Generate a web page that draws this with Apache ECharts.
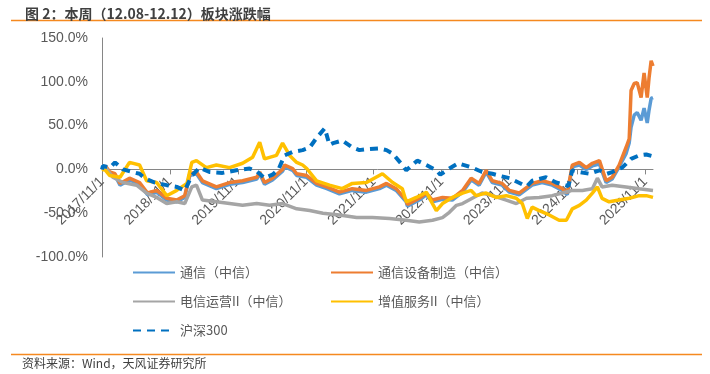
<!DOCTYPE html>
<html><head><meta charset="utf-8">
<script src="https://cdn.jsdelivr.net/npm/echarts@6/dist/echarts.min.js"></script>
<style>html,body{margin:0;padding:0;background:#fff}#c{width:710px;height:374px}</style>
</head><body><div id="c"></div>
<script>
const seriesNames = ['通信（中信）','通信设备制造（中信）','电信运营II（中信）','增值服务II（中信）','沪深300'];
const xTickLabels = ['2017/11/1','2018/11/1','2019/11/1','2020/11/1','2021/11/1','2022/11/1','2023/11/1','2024/11/1','2025/11/1'];
const yTicks = [-100,-50,0,50,100,150];

const tongxin = [
['2017-11-01',0],['2017-11-20',3],['2017-12-13',-5],['2018-01-10',-7],['2018-02-06',-18],['2018-03-29',-12],['2018-05-22',-17],['2018-07-04',-29],['2018-08-22',-26],['2018-10-15',-35],['2018-12-08',-37],['2019-01-20',-32],['2019-02-16',-7],['2019-03-24',-5],['2019-04-25',-15],['2019-07-09',-22],['2019-09-18',-17],['2019-11-27',-15],['2020-02-11',-11],['2020-02-27',-5],['2020-03-24',-17],['2020-05-06',-12],['2020-06-29',-2],['2020-07-10',3],['2020-08-22',-1],['2020-09-13',-7],['2020-11-06',-9],['2020-12-29',-18],['2021-02-22',-22],['2021-05-01',-28],['2021-07-09',-24],['2021-09-23',-26],['2021-12-02',-22],['2022-01-09',-18],['2022-03-02',-24],['2022-04-25',-37],['2022-05-01',-42],['2022-07-04',-35],['2022-08-11',-29],['2022-09-13',-37],['2022-11-06',-34],['2022-12-29',-35],['2023-02-22',-26],['2023-04-09',-12],['2023-05-22',-18],['2023-06-29',-3],['2023-08-01',-15],['2023-09-23',-18],['2023-11-01',-26],['2023-12-23',-29],['2024-03-02',-18],['2024-04-25',-15],['2024-06-18',-18],['2024-08-11',-24],['2024-09-07',-29],['2024-10-04',3],['2024-11-11',5],['2024-12-18',0],['2025-01-20',4],['2025-02-27',6],['2025-04-04',-15],['2025-05-06',-11],['2025-06-13',3],['2025-07-20',18],['2025-08-06',30],['2025-08-16',48],['2025-09-02',62],['2025-09-18',65],['2025-10-09',56],['2025-10-25',70],['2025-11-11',53],['2025-11-21',68],['2025-12-02',81],['2025-12-12',82]
];
const shebei = [
['2017-11-01',0],['2017-11-20',4],['2017-12-13',-3],['2018-01-10',-5],['2018-02-06',-16],['2018-03-29',-10],['2018-05-22',-15],['2018-07-04',-27],['2018-08-22',-24],['2018-10-15',-33],['2018-12-08',-35],['2019-01-20',-30],['2019-02-16',-5],['2019-03-24',-3],['2019-04-25',-13],['2019-07-09',-20],['2019-09-18',-15],['2019-11-27',-13],['2020-02-11',-9],['2020-02-27',-3],['2020-03-24',-15],['2020-05-06',-10],['2020-06-29',0],['2020-07-10',5],['2020-08-22',1],['2020-09-13',-5],['2020-11-06',-7],['2020-12-29',-16],['2021-02-22',-20],['2021-05-01',-26],['2021-07-09',-22],['2021-09-23',-24],['2021-12-02',-20],['2022-01-09',-16],['2022-03-02',-22],['2022-04-25',-35],['2022-05-01',-40],['2022-07-04',-33],['2022-08-11',-27],['2022-09-13',-35],['2022-11-06',-32],['2022-12-29',-33],['2023-02-22',-24],['2023-04-09',-10],['2023-05-22',-16],['2023-06-29',-1],['2023-08-01',-13],['2023-09-23',-16],['2023-11-01',-24],['2023-12-23',-27],['2024-03-02',-16],['2024-04-25',-13],['2024-06-18',-16],['2024-08-11',-22],['2024-09-07',-27],['2024-10-04',5],['2024-11-11',8],['2024-12-18',2],['2025-01-20',7],['2025-02-27',10],['2025-04-04',-13],['2025-05-06',-9],['2025-06-13',5],['2025-07-20',25],['2025-08-06',35],['2025-08-16',90],['2025-09-02',98],['2025-09-18',99],['2025-10-09',82],['2025-10-25',110],['2025-11-11',82],['2025-11-21',105],['2025-12-02',124],['2025-12-12',118]
];
const dianxin = [
['2017-11-01',0],['2017-11-20',2],['2017-12-29',-9],['2018-02-22',-15],['2018-05-06',-18],['2018-06-29',-27],['2018-08-22',-32],['2018-10-15',-39],['2018-12-08',-37],['2019-01-20',-39],['2019-02-27',-20],['2019-03-24',-18],['2019-04-25',-35],['2019-07-09',-37],['2019-09-18',-39],['2019-11-27',-41],['2020-02-11',-39],['2020-04-20',-41],['2020-06-29',-39],['2020-09-13',-45],['2020-11-22',-47],['2021-02-01',-50],['2021-05-01',-52],['2021-08-01',-55],['2021-10-25',-55],['2022-01-25',-56],['2022-04-25',-58],['2022-07-04',-60],['2022-09-13',-58],['2022-11-06',-55],['2022-12-13',-49],['2023-01-20',-41],['2023-02-22',-39],['2023-04-15',-33],['2023-06-07',-27],['2023-08-01',-30],['2023-10-15',-35],['2023-12-08',-39],['2024-02-01',-33],['2024-04-09',-32],['2024-06-18',-30],['2024-08-11',-27],['2024-10-04',-24],['2024-11-27',-24],['2025-01-20',-22],['2025-02-16',-10],['2025-03-13',-20],['2025-05-06',-18],['2025-07-20',-20],['2025-09-29',-22],['2025-12-12',-24]
];
const zengzhi = [
['2017-11-01',0],['2017-11-20',-1],['2017-12-13',-7],['2018-02-06',-9],['2018-03-29',8],['2018-05-22',5],['2018-06-29',-13],['2018-08-22',-15],['2018-10-15',-30],['2018-12-08',-24],['2019-02-01',-16],['2019-02-27',8],['2019-03-24',10],['2019-05-16',2],['2019-07-09',5],['2019-09-18',2],['2019-11-27',7],['2020-01-20',14],['2020-02-27',31],['2020-03-24',12],['2020-05-27',16],['2020-06-29',30],['2020-08-06',16],['2020-09-13',8],['2020-10-15',5],['2020-11-06',1],['2020-12-29',-13],['2021-03-08',-18],['2021-05-16',-22],['2021-07-09',-16],['2021-09-23',-15],['2021-12-18',-5],['2022-02-11',-15],['2022-04-04',-22],['2022-04-25',-37],['2022-06-18',-32],['2022-08-11',-26],['2022-09-13',-39],['2022-10-04',-47],['2022-11-06',-39],['2022-12-29',-32],['2023-02-22',-27],['2023-04-09',-24],['2023-05-06',-30],['2023-06-29',-27],['2023-08-22',-32],['2023-10-15',-30],['2023-12-08',-33],['2024-01-09',-39],['2024-02-05',-56],['2024-03-02',-43],['2024-04-09',-47],['2024-06-02',-52],['2024-07-25',-58],['2024-09-02',-58],['2024-10-04',-45],['2024-11-11',-41],['2024-12-18',-35],['2025-01-20',-27],['2025-02-16',-20],['2025-03-13',-33],['2025-04-20',-37],['2025-06-13',-35],['2025-08-06',-33],['2025-09-29',-30],['2025-11-06',-30],['2025-12-12',-32]
];
const hs300 = [
['2017-11-01',0],['2017-11-06',4],['2017-12-13',2],['2018-01-10',8],['2018-01-26',5],['2018-02-22',0],['2018-04-15',-3],['2018-05-22',-5],['2018-06-18',-10],['2018-08-11',-15],['2018-10-15',-18],['2018-12-08',-20],['2019-01-20',-24],['2019-02-27',-7],['2019-04-10',2],['2019-06-02',-3],['2019-08-11',-4],['2019-10-25',-1],['2020-01-04',1],['2020-02-11',-2],['2020-03-24',-10],['2020-05-06',-6],['2020-06-07',0],['2020-07-10',16],['2020-08-22',20],['2020-10-15',22],['2020-11-22',25],['2020-12-29',36],['2021-02-11',47],['2021-03-08',28],['2021-03-28',30],['2021-05-16',33],['2021-07-09',25],['2021-08-16',22],['2021-09-23',23],['2021-12-02',24],['2022-01-09',22],['2022-02-11',18],['2022-04-04',5],['2022-04-25',-1],['2022-06-23',10],['2022-08-11',5],['2022-10-04',-1],['2022-10-25',-6],['2022-12-13',1],['2023-01-30',7],['2023-04-15',2],['2023-06-07',-3],['2023-08-01',-5],['2023-09-23',-8],['2023-11-01',-10],['2024-01-09',-17],['2024-02-05',-19],['2024-03-02',-13],['2024-05-16',-9],['2024-07-09',-15],['2024-09-13',-19],['2024-10-04',-1],['2024-11-11',-3],['2025-01-04',-5],['2025-02-27',-1],['2025-04-09',-5],['2025-05-06',-3],['2025-06-29',2],['2025-08-16',12],['2025-09-29',16],['2025-11-06',17],['2025-12-12',15]
];

const colors = ['#5B9BD5','#ED7D31','#A5A5A5','#FFC000','#0070C0'];
const dataList = [tongxin, shebei, dianxin, zengzhi, hs300];
const FONT = '"Liberation Sans","Noto Sans CJK SC",sans-serif';
const CJK = '"Noto Sans CJK SC","Liberation Sans",sans-serif';

function parseD(s){const p=s.split(/[-\/]/).map(Number);return Date.UTC(p[0],p[1]-1,p[2]);}
function fmtD(v){const d=new Date(v);return d.getUTCFullYear()+'/'+(d.getUTCMonth()+1)+'/'+d.getUTCDate();}
const tickValues = xTickLabels.map(parseD);

const GRID = {left:102,right:57,top:38,bottom:117};
const plotH = 374 - GRID.top - GRID.bottom;
const yMin = yTicks[0], yMax = yTicks[yTicks.length-1];
// shift the x axis (line, ticks, labels) from the grid bottom up to the zero line
const zeroOffset = -plotH * (0 - yMin) / (yMax - yMin);

const chart = echarts.init(document.getElementById('c'), null, {renderer:'canvas'});
const legendPos = [[132,266],[330,266],[132,295],[330,295],[132,324]];
chart.setOption({
  animation:false,
  color: colors,
  title:{text:'图 2：本周（12.08-12.12）板块涨跌幅',left:20,top:2,textStyle:{fontSize:14,fontWeight:'bold',color:'#404040',fontFamily:CJK}},
  graphic:[
    {type:'line',shape:{x1:11,y1:20.5,x2:702,y2:20.5},style:{stroke:'#F5891F',lineWidth:1.5}},
    {type:'line',shape:{x1:11,y1:354.5,x2:702,y2:354.5},style:{stroke:'#F5891F',lineWidth:1.5}},
    {type:'text',left:22,top:357,style:{text:'资料来源：Wind，天风证券研究所',fontSize:12,fill:'#404040',fontFamily:CJK}}
  ],
  legend: seriesNames.map((n,i)=>({data:[n],left:legendPos[i][0],top:legendPos[i][1],itemWidth:42,itemHeight:14,itemGap:5,padding:0,
    itemStyle:{opacity:0},
    textStyle:{fontSize:13,color:'#595959',fontFamily:CJK},selectedMode:false})),
  grid:GRID,
  xAxis:{type:'value',min:parseD('2017-11-01'),max:parseD('2025-12-12'),position:'bottom',offset:zeroOffset,
    axisLine:{onZero:false,lineStyle:{color:'#868686',width:1}},
    axisTick:{show:true,length:5,customValues:tickValues,lineStyle:{color:'#868686'}},
    axisLabel:{customValues:tickValues,rotate:45,margin:10,fontSize:14,color:'#595959',fontFamily:FONT,hideOverlap:false,
      formatter:fmtD},
    splitLine:{show:false}},
  yAxis:{type:'value',min:yMin,max:yMax,interval:50,
    axisLine:{show:true,onZero:false,lineStyle:{color:'#868686'}},axisTick:{show:false},splitLine:{show:false},
    axisLabel:{fontSize:14,color:'#595959',fontFamily:FONT,margin:14,formatter:v=>v.toFixed(1)+'%'}},
  series: seriesNames.map((n,i)=>({name:n,type:'line',data:dataList[i].map(p=>[parseD(p[0]),p[1]]),showSymbol:false,symbol:'none',
    lineStyle:{width:i===4?4:3.5,color:colors[i],type:i===4?[8,6]:'solid'},itemStyle:{color:colors[i]},z:2+i}))
});
</script></body></html>
